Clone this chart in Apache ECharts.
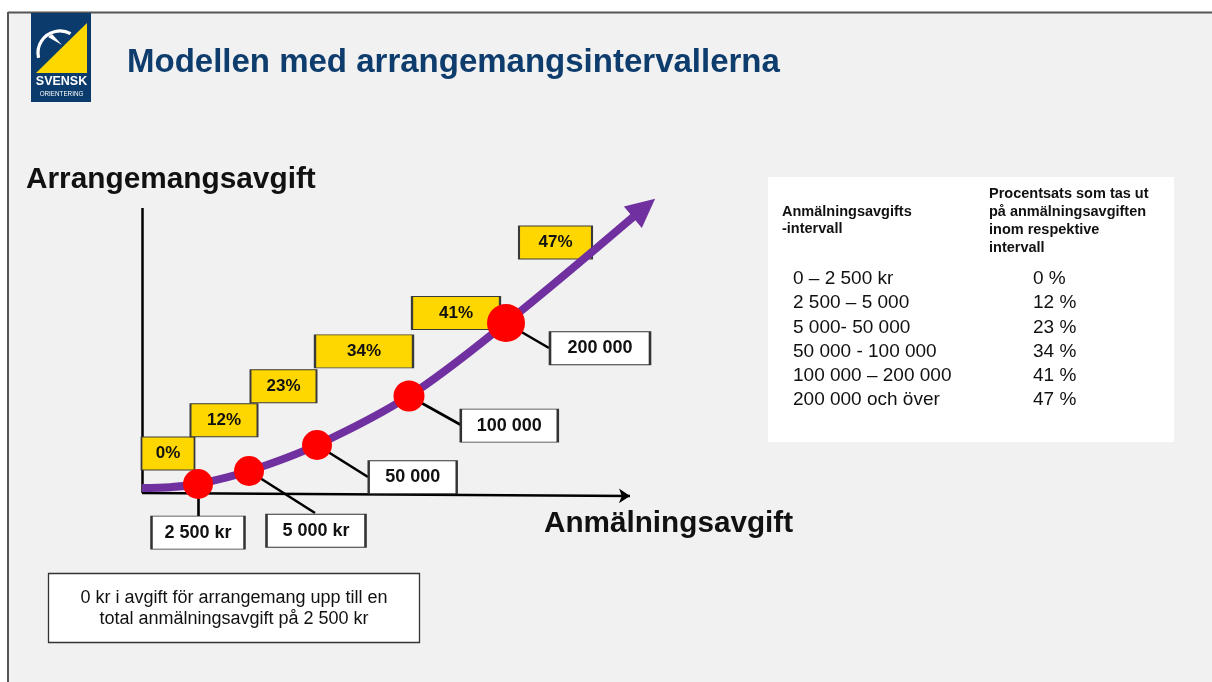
<!DOCTYPE html>
<html>
<head>
<meta charset="utf-8">
<script src="https://cdn.jsdelivr.net/npm/echarts@6/dist/echarts.min.js"></script>
<style>
  html, body { margin: 0; padding: 0; background: #f1f1f1; }
  #chart { width: 1212px; height: 682px; }
</style>
</head>
<body>
<div id="chart"></div>
<script>
// ---------- DATA ----------
const title = 'Modellen med arrangemangsintervallerna';
const yAxisTitle = 'Arrangemangsavgift';
const xAxisTitle = 'Anmälningsavgift';
const intervals = ['0 – 2 500 kr', '2 500 – 5 000', '5 000- 50 000', '50 000 - 100 000', '100 000 – 200 000', '200 000 och över'];
const rates = [0, 12, 23, 34, 41, 47];
const thresholdLabels = ['2 500 kr', '5 000 kr', '50 000', '100 000', '200 000'];
// schematic curve (fee model), in diagram units
const curveX = [0, 28, 56, 107, 175, 267, 364, 497];
const curveY = [5, 5.8, 9, 22, 48, 97, 170, 281];
// threshold points on the curve
const dotX = [56, 107, 175, 267, 364];
const dotY = [9, 22, 48, 97, 170];
const arrowTip = [502, 285];
const headerLeft = ['Anmälningsavgifts', '-intervall'];
const headerRight = ['Procentsats som tas ut', 'på anmälningsavgiften', 'inom respektive', 'intervall'];
const noteLines = ['0 kr i avgift för arrangemang upp till en', 'total anmälningsavgift på 2 500 kr'];

// ---------- LAYOUT (positions / sizes, not data) ----------
const rateBoxPos = [[26, 39.5], [82, 72.7], [141.5, 106.7], [222, 141.7], [314, 180], [413.5, 250.5]];
const rateBoxW = [53, 67, 66, 98, 88, 73];
const thrBoxPos = [[56, -39.6], [174, -37.8], [270.7, 15.7], [367.3, 67.4], [458, 144.7]];
const thrBoxW = [93, 99, 88, 97, 100];
const leaderEnds = [[56, -23], [173, -20], [226, 16], [319, 68], [407, 145]];
const dotSizes = [30, 30, 30, 31, 38];

const FONT = '"Liberation Sans", Arial, sans-serif';
const chart = echarts.init(document.getElementById('chart'), null, { renderer: 'canvas' });

const txt = (x, y, text, font, fill, align) => ({
  type: 'text', x, y, silent: true, z: 10,
  style: { text, font, fill: fill || '#111', align: align || 'left', verticalAlign: 'middle' }
});

const graphics = [
  // outer frame
  { type: 'rect', shape: { x: 0, y: 0, width: 1212, height: 12 }, style: { fill: '#fff' }, z: 1 },
  { type: 'rect', shape: { x: 0, y: 0, width: 8, height: 682 }, style: { fill: '#fff' }, z: 1 },
  { type: 'line', shape: { x1: 8, y1: 12.5, x2: 1212, y2: 12.5 }, style: { stroke: '#555', lineWidth: 2 }, z: 2 },
  { type: 'line', shape: { x1: 8, y1: 12, x2: 8, y2: 682 }, style: { stroke: '#555', lineWidth: 2 }, z: 2 },
  // logo
  { type: 'rect', shape: { x: 31, y: 13, width: 60, height: 89 }, style: { fill: '#0b3b6c' }, z: 3 },
  { type: 'polygon', shape: { points: [[87, 23], [36, 73], [87, 73]] }, style: { fill: '#ffd700' }, z: 4 },
  { type: 'arc', shape: { cx: 60, cy: 53, r: 22, startAngle: Math.PI * 0.93, endAngle: Math.PI * 1.66, clockwise: true },
    style: { stroke: '#fff', lineWidth: 3.2, fill: null }, z: 5 },
  { type: 'polygon', shape: { points: [[48, 37], [52, 34], [62, 45]] }, style: { fill: '#fff' }, z: 5 },
  txt(61.5, 82, 'SVENSK', 'bold 12.5px ' + FONT, '#fff', 'center'),
  txt(61.5, 94, 'ORIENTERING', '6.3px ' + FONT, '#fff', 'center'),
  // title & axis titles
  txt(127, 62.5, title, 'bold 33px ' + FONT, '#0e3d6d'),
  txt(26, 180, yAxisTitle, 'bold 29.8px ' + FONT, '#111'),
  txt(544, 523.5, xAxisTitle, 'bold 29.7px ' + FONT, '#111'),
  // table
  { type: 'rect', shape: { x: 768, y: 177, width: 406, height: 265 }, style: { fill: '#fff' }, z: 3 },
  // note box
  { type: 'rect', shape: { x: 48.5, y: 573.5, width: 371, height: 69 }, style: { fill: '#fff', stroke: '#333', lineWidth: 1.3 }, z: 3 }
];
headerLeft.forEach((t, i) => graphics.push(txt(782, 212 + i * 16.5, t, 'bold 14.5px ' + FONT, '#111')));
headerRight.forEach((t, i) => graphics.push(txt(989, 194 + i * 18, t, 'bold 14.5px ' + FONT, '#111')));
intervals.forEach((t, i) => {
  graphics.push(txt(793, 279 + i * 24.2, t, '19px ' + FONT, '#111'));
  graphics.push(txt(1033, 279 + i * 24.2, rates[i] + ' %', '19px ' + FONT, '#111'));
});
noteLines.forEach((t, i) => graphics.push(txt(234, 598.5 + i * 20.5, t, '18px ' + FONT, '#111', 'center')));

const curveData = curveX.map((x, i) => [x, curveY[i]]);
const dots = dotX.map((x, i) => [x, dotY[i]]);
const leaders = dots.map((d, i) => ({ coords: [d, leaderEnds[i]] }));
const lastSeg = [curveX[curveX.length - 2], curveY[curveY.length - 2]];
const arrowAngle = Math.atan2(arrowTip[1] - lastSeg[1], arrowTip[0] - lastSeg[0]) * 180 / Math.PI;

chart.setOption({
  animation: false,
  backgroundColor: 'transparent',
  grid: { left: 142, top: 193, width: 520, height: 360, containLabel: false },
  xAxis: { type: 'value', min: 0, max: 520, show: false },
  yAxis: { type: 'value', min: -60, max: 300, show: false },
  graphic: { elements: graphics },
  series: [
    { // y axis line
      type: 'lines', coordinateSystem: 'cartesian2d', silent: true, z: 1,
      symbol: ['none', 'none'],
      lineStyle: { color: '#000', width: 2.5, opacity: 1 },
      data: [{ coords: [[0, 0], [0, 285]] }]
    },
    { // x axis line with arrow
      type: 'lines', coordinateSystem: 'cartesian2d', silent: true, z: 1,
      symbol: ['none', 'arrow'], symbolSize: 11,
      lineStyle: { color: '#000', width: 2.5, opacity: 1 },
      data: [{ coords: [[0, 0], [488, -3]] }]
    },
    { // leader lines
      type: 'lines', coordinateSystem: 'cartesian2d', silent: true, z: 2,
      symbol: ['none', 'none'],
      lineStyle: { color: '#000', width: 2.6, opacity: 1 },
      data: leaders
    },
    { // threshold boxes
      type: 'scatter', silent: true, z: 3,
      symbol: 'rect',
      symbolSize: (v, p) => [thrBoxW[p.dataIndex], 33],
      itemStyle: { color: '#fff', borderColor: '#333', borderWidth: 1.5, opacity: 1 },
      label: { show: true, position: 'inside', formatter: p => thresholdLabels[p.dataIndex],
        fontFamily: FONT, fontSize: 18, fontWeight: 'bold', color: '#111' },
      data: thrBoxPos
    },
    { // rate boxes
      type: 'scatter', silent: true, z: 3,
      symbol: 'rect',
      symbolSize: (v, p) => [rateBoxW[p.dataIndex], 33],
      itemStyle: { color: '#ffd700', borderColor: '#3a3a3a', borderWidth: 1.4, opacity: 1 },
      label: { show: true, position: 'inside', formatter: p => rates[p.dataIndex] + '%',
        fontFamily: FONT, fontSize: 17, fontWeight: 'bold', color: '#111' },
      data: rateBoxPos
    },
    { // curve
      type: 'line', silent: true, z: 4,
      smooth: 0.35,
      symbol: 'none',
      lineStyle: { color: '#7030a0', width: 8, cap: 'butt', opacity: 1 },
      data: curveData
    },
    { // arrow head
      type: 'scatter', silent: true, z: 4,
      symbol: 'triangle', symbolSize: [28, 29],
      symbolRotate: arrowAngle - 90,
      itemStyle: { color: '#7030a0', opacity: 1 },
      data: [arrowTip]
    },
    { // red dots
      type: 'scatter', silent: true, z: 5,
      symbol: 'circle',
      symbolSize: (v, p) => dotSizes[p.dataIndex],
      itemStyle: { color: '#ff0000', opacity: 1 },
      data: dots
    }
  ]
});
</script>
</body>
</html>
